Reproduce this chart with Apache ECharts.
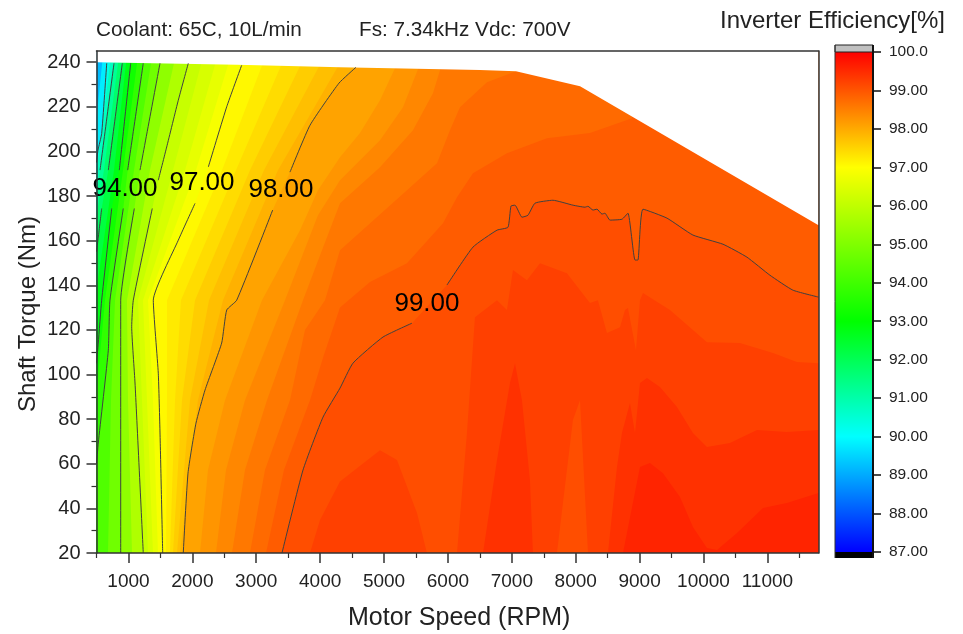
<!DOCTYPE html>
<html><head><meta charset="utf-8">
<style>html,body{margin:0;padding:0;background:#fff}#c{width:963px;height:634px}</style>
<script src="https://cdn.jsdelivr.net/npm/echarts@6/dist/echarts.min.js"></script>
</head><body><div id="c"></div>
<script>
// Axis ticks
const speedMajor = [1000,2000,3000,4000,5000,6000,7000,8000,9000,10000,11000];
const speedMinor = [500,1500,2500,3500,4500,5500,6500,7500,8500,9500,10500,11500];
const torqueMajor = [20,40,60,80,100,120,140,160,180,200,220,240];
const torqueMinor = [30,50,70,90,110,130,150,170,190,210,230];
// Colour scale (efficiency, r, g, b)
const scaleStops = [[87,0,0,255],[90,0,255,255],[93,0,255,0],[97,255,255,0],[100,255,0,0]];
// Outer limit of the operating region [rpm, Nm]
const envelope = [[500,240],[2700,238.8],[4311,237.7],[6500,236.5],[7065,235.9],[8068,229.2],[11800,166.9]];
// Labelled / drawn contour lines [rpm, Nm]; null = gap at a label
const line90 = [[660,239.5],[581,208],[523,200.5],[500,195]];
const line91 = [[774,239.5],[555,191.6],null,[500,181]];
const line92 = [[904,239.5],[685,191.6],null,[581,174.4],[528,161.6],[500,155]];
const line93 = [[1035,239.5],[857,191.6],null,[738,174.4],[581,133.3],[528,114.1],[500,105]];
const line94 = [[1232,239.5],[988,191.6],null,[919,174.4],[711,133.3],[685,110.9],[528,69.3],[500,60]];
const line95 = [[1494,239.5],[1181,191.6],null,[1092,174.4],[879,133.3],[879,20]];
const line96 = [[1937,239.5],[1780,222.9],[1599,202],[1467,187.1],null,[1373,174.4],[1076,133.3],[1051,121.4],[1103,96.2],[1232,20]];
const line97 = [[2772,238.6],[2538,220],[2250,193],null,[2042,176.7],[1780,160.2],[1389,133.3],[1467,100.6],[1494,73.8],[1536,20]];
const line98 = [[4561,237.7],[4295,230.6],[3841,211.7],[3528,190.7],null,[3257,173.7],[2694,133.3],[2538,128.9],[2459,114.1],[2198,93],[2057,78.2],[1932,55.8],[1858,20]];
const line99 = [[11800,134.7],[11400,137.8],[11040,144.5],[10680,152.6],[10305,158.4],[9835,162.5],[9428,170.1],[9053,174.1],[8974,151.3],[8928,151.3],[8818,172.3],[8724,169.6],[8536,169.2],[8458,172.3],[8411,171.9],[8333,174.1],[8270,173.7],[8192,175.4],[8145,175],[7957,175.9],[7644,178.1],[7363,176.8],[7253,171.4],[7159,170.5],[7050,175.9],[6987,175.5],[6940,166],[6768,164.7],[6392,157.1],[5985,140.1],null,[5437,123],[4984,116.8],[4514,105.1],[4311,93.9],[4045,80.9],[3732,57.2],[3403,20]];
// Unlabelled band edges [rpm, Nm]
const edge896 = [[590,240],[500,215]];
const edge905 = [[711,239.5],[500,190]];
const edge915 = [[837,239.5],[617,191.6],[500,171]];
const edge925 = [[962,239.5],[774,191.6],[500,138]];
const edge935 = [[1134,239.5],[915,191.6],[633,133.3],[500,92]];
const edge945 = [[1353,239.5],[1087,191.6],[790,133.3],[727,88.5],[680,20]];
const edge955 = [[1713,239.5],[1337,191.6],[977,133.3],[993,88.5],[1056,20]];
const edge9625 = [[2135,238.8],[1697,191.6],[1149,133.3],[1212,88.5],[1306,20]];
const edge965 = [[2355,238.8],[1885,191.6],[1228,133.3],[1290,88.5],[1384,20]];
const edge9675 = [[2558,238.7],[2057,191.6],[1306,133.3],[1384,88.5],[1462,20]];
const edge9717 = [[3090,238.5],[2464,191.6],[1603,133.3],[1603,88.5],[1588,20]];
const edge9733 = [[3387,238.4],[2683,191.6],[1822,133.3],[1729,88.5],[1650,20]];
const edge975 = [[3685,238.3],[2902,191.6],[2042,133.3],[1838,88.5],[1697,20]];
const edge9767 = [[3982,238.1],[3121,191.6],[2261,133.3],[1963,88.5],[1760,20]];
const edge9783 = [[4279,238],[3340,191.6],[2480,133.3],[2088,88.5],[1807,20]];
const edge9817 = [[5171,237.3],[4937,222.9],[4624,208.2],[4311,197.4],[3966,182.6],[3685,164.7],[3090,133.3],[2511,88.5],[2245,57.2],[2120,20]];
const edge9833 = [[5531,236.8],[5297,219.8],[4937,205],[4311,187.1],[3966,171.4],[3450,133.3],[2824,88.5],[2527,57.2],[2370,20]];
const edge985 = [[5876,236.4],[5766,226.1],[5453,209.5],[4937,192.9],[4311,176.8],[4029,155.7],[3732,133.3],[3168,88.5],[2824,57.2],[2621,20]];
const edge9867 = [[7065,235.9],[6611,231],[6189,219.8],[6032,209.5],[5829,194.7],[5359,182.6],[4311,155.7],[4076,133.3],[3763,119.9],[3528,88.5],[3137,57.2],[2902,20]];
const edge9883 = [[8881,214.9],[8223,208.2],[7550,205.9],[6924,199.2],[6392,190.2],[6142,179.5],[5923,167.8],[5359,149.9],[4780,141.5],[4311,130],[4050,108],[3841,88.5],[3434,57.2],[3153,20]];
// Bands: efficiency at each edge, low to high
const bandLevels = [89.6,90,90.5,91,91.5,92,92.5,93,93.5,94,94.5,95,95.5,96,96.25,96.5,96.75,97,97.17,97.33,97.5,97.67,97.83,98,98.17,98.33,98.5,98.67,98.83,99,99.17];
const bandEdges = [edge896,line90,edge905,line91,edge915,line92,edge925,line93,edge935,line94,edge945,line95,edge955,line96,edge9625,edge965,edge9675,line97,edge9717,edge9733,edge975,edge9767,edge9783,line98,edge9817,edge9833,edge985,edge9867,edge9883,line99];
const baseEfficiency = 89.2;
// Closed high-efficiency islands [rpm, Nm]
const islandLow = [[3841,20],[3998,34.8],[4311,52],[4937,66],[5203,61.7],[5516,37.9],[5672,20]];
const islandMid = [[6142,20],[6298,73.8],[6423,125.7],[6768,133.3],[6924,128.9],[7018,146.8],[7237,142.3],[7441,149.9],[7863,145.4],[8223,132],[8348,133.3],[8489,118.6],[8693,121.2],[8771,128.9],[8818,129.8],[8943,110.9],[9006,133.3],[9053,136.5],[9475,128.9],[9835,119.9],[10054,114.5],[10571,114.1],[11087,109.6],[11463,105.6],[11800,105.1],[11800,20]];
const islandPeak = [[6549,20],[6768,61.7],[6971,96.2],[7050,105.1],[7159,88.5],[7284,52.7],[7331,20]];
const islandDip = [[7707,20],[7957,79.6],[8067,88.5],[8192,20]];
const islandRight = [[8505,20],[8646,58.5],[8724,73.8],[8849,87.2],[8928,73.8],[9006,96.2],[9115,98.4],[9319,94.4],[9585,85.4],[9835,73.8],[10054,67.5],[10414,69.3],[10837,75.1],[11306,74.2],[11800,75.1],[11800,20]];
const islandTop = [[8740,20],[9006,58.5],[9162,60.3],[9366,55.8],[9632,45.1],[9835,31.6],[10054,22.2],[10211,21.3],[10524,29],[10931,40.2],[11306,42.4],[11800,46.9],[11800,20]];
const islands = [islandLow,islandMid,islandPeak,islandDip,islandRight,islandTop];
const islandValues = [99.25,99.25,99.42,99.08,99.42,99.58];
// Contour labels
const labelTexts = ['94.00','97.00','98.00','99.00'];
const labelPoints = [[946,183.1],[2151,185.8],[3387,182.6],[5672,131.5]];
// Colour bar ticks
const barMin = 87, barMax = 100;

const xMin = 500, xMax = 11800, yMin = 20, yMax = 245;
function colourOf(v){
  for(let i=0;i<scaleStops.length-1;i++){
    const a=scaleStops[i],b=scaleStops[i+1];
    if(v<=b[0]){const t=Math.max(0,(v-a[0])/(b[0]-a[0]));
      return 'rgb('+[1,2,3].map(k=>Math.round(a[k]+(b[k]-a[k])*t)).join(',')+')';}
  }
  return 'rgb(255,0,0)';
}
const closeEdge = e => { const p=e.filter(Boolean), f=p[0], l=p[p.length-1];
  return p.concat([[l[0],yMin],[xMax,yMin],[xMax,yMax],[f[0],yMax]]); };
const fills = [{pts:[[xMin,yMin],[xMax,yMin],[xMax,yMax],[xMin,yMax]],col:colourOf(baseEfficiency)}];
bandEdges.forEach((e,i)=>fills.push({pts:closeEdge(e),col:colourOf((bandLevels[i]+bandLevels[i+1])/2)}));
islands.forEach((p,i)=>fills.push({pts:p,col:colourOf(islandValues[i])}));
const maskPts = envelope.concat([[xMax,yMax],[xMin,yMax]]);
const polySeries = (items,z)=>({type:'custom',xAxisIndex:0,yAxisIndex:0,z,silent:true,clip:false,
  data:items.map((_,i)=>[i]),
  renderItem:(p,api)=>({type:'polygon',shape:{points:items[p.dataIndex].pts.map(q=>api.coord(q))},
    style:{fill:items[p.dataIndex].col,stroke:null}})});
const contourSeries = [line90,line91,line92,line93,line94,line95,line96,line97,line98,line99].map(l=>({
  type:'line',xAxisIndex:0,yAxisIndex:0,z:3,silent:true,showSymbol:false,symbol:'none',smooth:0.15,
  lineStyle:{color:'#404040',width:1},
  data:l.map(q=>q===null?['-','-']:q)}));

const font='"Liberation Sans",Arial,sans-serif';
const line={lineStyle:{color:'#333',width:1.5}};
const gridRect={left:96.5,width:722,top:51,height:502};
const option={
  animation:false,backgroundColor:'#fff',
  textStyle:{fontFamily:font},
  grid:[Object.assign({},gridRect),Object.assign({},gridRect),{left:835,width:38,top:52,height:500}],
  xAxis:[
    {gridIndex:0,type:'value',min:xMin,max:xMax,position:'bottom',z:6,splitLine:{show:false},
      axisLine:Object.assign({show:true,onZero:false},line),
      axisTick:{show:true,length:10,lineStyle:{color:'#333',width:1.5},customValues:speedMajor},
      axisLabel:{show:true,customValues:speedMajor,formatter:v=>String(v),fontSize:19,color:'#222',margin:19,fontFamily:font}},
    {gridIndex:0,type:'value',min:xMin,max:xMax,position:'top',z:6,splitLine:{show:false},
      axisLine:Object.assign({show:true,onZero:false},line),axisTick:{show:false},axisLabel:{show:false}},
    {gridIndex:1,type:'value',min:xMin,max:xMax,position:'bottom',z:6,splitLine:{show:false},
      axisLine:{show:false},axisLabel:{show:false},
      axisTick:{show:true,length:5,lineStyle:{color:'#333',width:1.2},customValues:speedMinor}},
    {gridIndex:2,type:'value',min:0,max:1,show:false}
  ],
  yAxis:[
    {gridIndex:0,type:'value',min:yMin,max:yMax,position:'left',z:6,splitLine:{show:false},
      axisLine:Object.assign({show:true,onZero:false},line),
      axisTick:{show:true,length:10,lineStyle:{color:'#333',width:1.5},customValues:torqueMajor},
      axisLabel:{show:true,customValues:torqueMajor,formatter:v=>String(v),fontSize:20,color:'#222',margin:16,fontFamily:font}},
    {gridIndex:0,type:'value',min:yMin,max:yMax,position:'right',z:6,splitLine:{show:false},
      axisLine:Object.assign({show:true,onZero:false},line),axisTick:{show:false},axisLabel:{show:false}},
    {gridIndex:1,type:'value',min:yMin,max:yMax,position:'left',z:6,splitLine:{show:false},
      axisLine:{show:false},axisLabel:{show:false},
      axisTick:{show:true,length:5,lineStyle:{color:'#333',width:1.2},customValues:torqueMinor}},
    {gridIndex:2,type:'value',min:barMin,max:barMax,interval:1,position:'right',z:6,splitLine:{show:false},
      axisLine:{show:true,onZero:false,lineStyle:{color:'#111',width:2}},
      axisTick:{show:true,length:8,lineStyle:{color:'#111',width:1.5}},
      axisLabel:{show:true,fontSize:15.5,color:'#222',margin:16,fontFamily:font,formatter:v=>v===barMax?'100.0':v.toFixed(2)}}
  ],
  series:[
    polySeries(fills,1),
    polySeries([{pts:maskPts,col:'#fff'}],2),
    ...contourSeries,
    {type:'scatter',xAxisIndex:0,yAxisIndex:0,z:4,silent:true,symbolSize:1,itemStyle:{color:'rgba(0,0,0,0)',opacity:1},
      data:labelPoints.map((q,i)=>({value:q,name:labelTexts[i]})),
      label:{show:true,position:'inside',formatter:'{b}',fontSize:26,color:'#000',opacity:1,textBorderWidth:0,textBorderColor:'rgba(0,0,0,0)',fontFamily:font}},
    {type:'custom',xAxisIndex:3,yAxisIndex:3,z:3,silent:true,clip:false,data:[[0]],
      renderItem:(p,api)=>{
        const tl=api.coord([0,barMax]),br=api.coord([1,barMin]);
        const w=br[0]-tl[0],h=br[1]-tl[1];
        const span=barMax-barMin;
        return {type:'group',children:[
          {type:'rect',shape:{x:tl[0],y:tl[1],width:w,height:h},style:{fill:new echarts.graphic.LinearGradient(0,1,0,0,
            scaleStops.map(s=>({offset:(s[0]-barMin)/span,color:colourOf(s[0])})))}},
          {type:'rect',shape:{x:tl[0],y:tl[1]-7,width:w,height:7},style:{fill:'#c0c0c0',stroke:'#222',lineWidth:1}},
          {type:'rect',shape:{x:tl[0],y:br[1],width:w,height:6},style:{fill:'#000'}},
          {type:'line',shape:{x1:tl[0],y1:tl[1]-7,x2:tl[0],y2:br[1]+6},style:{stroke:'#333',lineWidth:1}},
          {type:'line',shape:{x1:br[0],y1:tl[1]-7,x2:br[0],y2:br[1]+6},style:{stroke:'#111',lineWidth:2}}
        ]};
      }}
  ],
  graphic:[
    {type:'text',left:96,top:20,style:{text:'Coolant: 65C, 10L/min',font:'20.7px '+font,fill:'#222'}},
    {type:'text',left:359,top:20,style:{text:'Fs: 7.34kHz Vdc: 700V',font:'20.7px '+font,fill:'#222'}},
    {type:'text',left:720,top:9,style:{text:'Inverter Efficiency[%]',font:'24px '+font,fill:'#222'}},
    {type:'text',left:348,top:606,style:{text:'Motor Speed (RPM)',font:'25px '+font,fill:'#222'}},
    {type:'text',x:28,y:314,rotation:Math.PI/2,style:{text:'Shaft Torque (Nm)',font:'24px '+font,fill:'#222',align:'center',verticalAlign:'middle'}}
  ]
};
const chart=echarts.init(document.getElementById('c'),null,{renderer:'canvas'});
chart.setOption(option);
</script></body></html>
